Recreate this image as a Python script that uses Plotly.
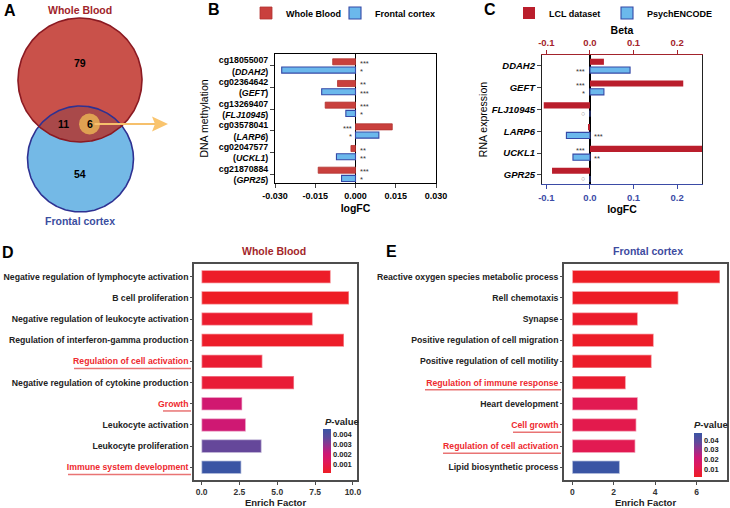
import numpy as np
import plotly.graph_objects as go

W, H = 730, 508
def px(x): return x / W
def py(y): return 1 - y / H

FONT = "Liberation Sans, Arial, sans-serif"

# ---------------- data ----------------
# Panel A (Venn counts)
venn_sets = ["Whole Blood", "Frontal cortex"]
venn_wb_only = 79
venn_overlap_other = 11
venn_shared = 6
venn_fc_only = 54

# Panel B (DNA methylation logFC)
b_probes = ["cg18055007", "cg02364642", "cg13269407", "cg03578041", "cg02047577", "cg21870884"]
b_genes = ["DDAH2", "GEFT", "FLJ10945", "LARP6", "UCKL1", "GPR25"]
b_whole_blood = [-0.0085, -0.0067, -0.0113, 0.0137, -0.0017, -0.0139]
b_frontal = [-0.0275, -0.0126, -0.0036, 0.0087, -0.0071, -0.0052]
b_wb_sig = ["***", "**", "***", "***", "**", "***"]
b_fc_sig = ["*", "***", "*", "*", "**", "*"]
b_xticks = [-0.030, -0.015, 0.0, 0.015, 0.030]

# Panel C (RNA expression)
c_genes = ["DDAH2", "GEFT", "FLJ10945", "LARP6", "UCKL1", "GPR25"]
c_lcl_beta = [0.032, 0.214, -0.106, -0.004, 0.258, -0.087]
c_psych_logfc = [0.092, 0.032, 0.0, -0.054, -0.039, 0.0]
c_lcl_sig = ["", "***", "", "", "***", ""]
c_psych_sig = ["***", "*", "○", "***", "**", "○"]
c_xticks = [-0.1, 0.0, 0.1, 0.2]

# Panel D (Whole Blood enrichment)
d_terms = ["Negative regulation of lymphocyte activation", "B cell proliferation",
           "Negative regulation of leukocyte activation", "Regulation of interferon-gamma production",
           "Regulation of cell activation", "Negative regulation of cytokine production",
           "Growth", "Leukocyte activation", "Leukocyte proliferation", "Immune system development"]
d_enrich = [8.53, 9.74, 7.34, 9.41, 4.02, 6.11, 2.68, 2.92, 3.96, 2.62]
d_pvalue = [0.0002, 0.0001, 0.0003, 0.0002, 0.0004, 0.0005, 0.0019, 0.0020, 0.0036, 0.0046]
d_highlight = [False, False, False, False, True, False, True, False, False, True]
d_xticks = [0.0, 2.5, 5.0, 7.5, 10.0]
d_cbar_ticks = [0.001, 0.002, 0.003, 0.004]

# Panel E (Frontal cortex enrichment)
e_terms = ["Reactive oxygen species metabolic process", "Rell chemotaxis", "Synapse",
           "Positive regulation of cell migration", "Positive regulation of cell motility",
           "Regulation of immune response", "Heart development", "Cell growth",
           "Regulation of cell activation", "Lipid biosynthetic process"]
e_enrich = [7.13, 5.12, 3.16, 3.93, 3.83, 2.58, 3.16, 3.09, 3.04, 2.29]
e_pvalue = [0.0026, 0.0030, 0.0040, 0.0035, 0.0038, 0.0050, 0.0120, 0.0110, 0.0120, 0.0470]
e_highlight = [False, False, False, False, False, True, False, True, True, False]
e_xticks = [0, 2, 4, 6]
e_cbar_ticks = [0.01, 0.02, 0.03, 0.04]

# ---------------- styles ----------------
RED_B = "#C9403D"
BLUE_B = "#6BB8EC"
BLUE_EDGE = "#3448A6"
RED_C = "#BA1E2C"
AX_RED = "#A3232C"
AX_BLUE = "#3B4BA6"
HL_RED = "#EE2A2F"
FRAME = "#4D4D4D"
PSCALE = [[0.0, "#EE1D24"], [0.25, "#E0195A"], [0.45, "#CC1877"],
          [0.65, "#8C3590"], [0.8, "#5E4A9C"], [1.0, "#3A55A4"]]

fig = go.Figure()

# ---------------- Panel A: Venn ----------------
wb_c, wb_r = (80.0, 80.0), 62.0
fc_c, fc_r = (80.5, 159.0), 53.0
sh_c, sh_r = (89.5, 124.0), 10.5
t = np.linspace(0, 2 * np.pi, 361)

def circ(c, r):
    return c[0] + r * np.cos(t), c[1] + r * np.sin(t)

wx, wy = circ(wb_c, wb_r)
fx, fy = circ(fc_c, fc_r)
# lens (overlap) polygon
in_fc = (wx - fc_c[0]) ** 2 + (wy - fc_c[1]) ** 2 <= fc_r ** 2
in_wb = (fx - wb_c[0]) ** 2 + (fy - wb_c[1]) ** 2 <= wb_r ** 2
lx = np.concatenate([wx[in_fc], fx[in_wb]])
ly = np.concatenate([wy[in_fc], fy[in_wb]])
ang = np.arctan2(ly - ly.mean(), lx - lx.mean())
order = np.argsort(ang)
lx, ly = lx[order], ly[order]
sx, sy = circ(sh_c, sh_r)

venn_kw = dict(xaxis="x6", yaxis="y6", mode="lines", showlegend=False, hoverinfo="skip")
fig.add_trace(go.Scatter(x=fx, y=fy, fill="toself", fillcolor="#74B9E6", line=dict(width=0), **venn_kw))
fig.add_trace(go.Scatter(x=wx, y=wy, fill="toself", fillcolor="#C9514A", line=dict(width=0), **venn_kw))
fig.add_trace(go.Scatter(x=lx, y=ly, fill="toself", fillcolor="#A9494A", line=dict(width=0), **venn_kw))
fig.add_trace(go.Scatter(x=fx, y=fy, line=dict(color="#2E3192", width=1.6), **venn_kw))
fig.add_trace(go.Scatter(x=wx, y=wy, line=dict(color="#8B1A22", width=1.6), **venn_kw))
fig.add_trace(go.Scatter(x=sx, y=sy, fill="toself", fillcolor="#DFA152", line=dict(width=0), **venn_kw))
fig.add_trace(go.Scatter(x=[sh_c[0] + 5, 155], y=[sh_c[1], sh_c[1]],
                         line=dict(color="#F6C06C", width=2), **venn_kw))
fig.add_trace(go.Scatter(x=[152, 168, 152, 155, 152], y=[116.5, 124, 131.5, 124, 116.5], fill="toself",
                         fillcolor="#F9C46E", line=dict(width=0), **venn_kw))

venn_text = [
    (venn_sets[0], 80, 10, "#A0242A"),
    (venn_sets[1], 80, 221, "#3A4EA0"),
    (str(venn_wb_only), 80, 63, "black"),
    (str(venn_overlap_other), 63, 124, "black"),
    (str(venn_shared), 90, 124, "black"),
    (str(venn_fc_only), 80, 174, "black"),
]
annotations = []
for txt, x, y, col in venn_text:
    annotations.append(dict(text=txt, x=x, y=y, xref="x6", yref="y6", showarrow=False,
                            xanchor="center", yanchor="middle",
                            font=dict(size=10.5, color=col, family=FONT, weight="bold")))

# ---------------- Panel B ----------------
nb = len(b_probes)
b_idx = list(range(nb))
fig.add_trace(go.Bar(x=b_whole_blood, y=b_idx, orientation="h", name="Whole Blood",
                     width=0.28, offset=-0.33, marker=dict(color=RED_B, line=dict(color="#B23330", width=0.8)),
                     xaxis="x", yaxis="y", legend="legend"))
fig.add_trace(go.Bar(x=b_frontal, y=b_idx, orientation="h", name="Frontal cortex",
                     width=0.28, offset=0.05, marker=dict(color=BLUE_B, line=dict(color=BLUE_EDGE, width=1.1)),
                     xaxis="x", yaxis="y", legend="legend3"))
for vals, sigs, off in [(b_whole_blood, b_wb_sig, -0.19), (b_frontal, b_fc_sig, 0.19)]:
    for i, (v, s) in enumerate(zip(vals, sigs)):
        if not s:
            continue
        annotations.append(dict(text=s, x=0, y=i + off, xref="x", yref="y", showarrow=False,
                                xanchor="left" if v < 0 else "right", yanchor="middle",
                                xshift=2 if v < 0 else -2, yshift=-1.5,
                                font=dict(size=7.5, color="#333333", family=FONT)))

# ---------------- Panel C ----------------
nc = len(c_genes)
c_idx = list(range(nc))
fig.add_trace(go.Bar(x=c_lcl_beta, y=c_idx, orientation="h", name="LCL dataset",
                     width=0.28, offset=-0.33, marker=dict(color=RED_C, line=dict(width=0)),
                     xaxis="x3", yaxis="y2", legend="legend2"))
fig.add_trace(go.Bar(x=c_psych_logfc, y=c_idx, orientation="h", name="PsychENCODE",
                     width=0.28, offset=0.05, marker=dict(color=BLUE_B, line=dict(color=BLUE_EDGE, width=1.1)),
                     xaxis="x2", yaxis="y2", legend="legend4"))
for vals, sigs, off, xr in [(c_lcl_beta, c_lcl_sig, -0.19, "x3"), (c_psych_logfc, c_psych_sig, 0.19, "x2")]:
    for i, (v, s) in enumerate(zip(vals, sigs)):
        if not s:
            continue
        is_circle = s == "○"
        annotations.append(dict(text=s, x=0, y=i + off, xref=xr, yref="y2", showarrow=False,
                                xanchor="left" if v < 0 else "right", yanchor="middle",
                                xshift=2 if v < 0 else -3,
                                yshift=0 if is_circle else -1.5,
                                font=dict(size=7 if is_circle else 7.5,
                                          color="#888888" if is_circle else "#333333", family=FONT)))

# ---------------- Panels D & E ----------------
def styled(terms, hl):
    return [f'<span style="color:{HL_RED}">{tm}</span>' if h else tm for tm, h in zip(terms, hl)]

bar_line = dict(color="rgba(255,255,255,0.45)", width=1.5)
fig.add_trace(go.Bar(x=d_enrich, y=list(range(len(d_terms))), orientation="h", width=0.62,
                     marker=dict(color=d_pvalue, coloraxis="coloraxis", line=bar_line),
                     xaxis="x4", yaxis="y4", showlegend=False))
fig.add_trace(go.Bar(x=e_enrich, y=list(range(len(e_terms))), orientation="h", width=0.62,
                     marker=dict(color=e_pvalue, coloraxis="coloraxis2", line=bar_line),
                     xaxis="x5", yaxis="y5", showlegend=False))

# underline shapes for highlighted terms
shapes = []
d_ul_x0 = {4: 74, 6: 163, 9: 68}
e_ul_x0 = {5: 425, 7: 513, 8: 443}
for i, h in enumerate(d_highlight):
    if h:
        shapes.append(dict(type="line", xref="paper", yref="y4", x0=px(d_ul_x0[i]), x1=px(191),
                           y0=i + 0.34, y1=i + 0.34, line=dict(color="#E97474", width=1.5)))
for i, h in enumerate(e_highlight):
    if h:
        shapes.append(dict(type="line", xref="paper", yref="y5", x0=px(e_ul_x0[i]), x1=px(561),
                           y0=i + 0.34, y1=i + 0.34, line=dict(color="#E97474", width=1.5)))

def paper_text(txt, x, y, size, color, bold=True):
    return dict(text=txt, x=px(x), y=py(y), xref="paper", yref="paper", showarrow=False,
                xanchor="center", yanchor="middle",
                font=dict(size=size, color=color, family=FONT, weight="bold" if bold else "normal"))

# panel letters and titles
for txt, x, y in [("A", 9.5, 11), ("B", 214, 10), ("C", 490, 10), ("D", 8, 252), ("E", 391, 251)]:
    annotations.append(paper_text(txt, x, y, 16, "black"))
annotations.append(paper_text("Whole Blood", 274, 251, 10.5, "#A3262A"))
annotations.append(paper_text("Frontal cortex", 648, 251, 10.5, "#3D4BA0"))
annotations.append(paper_text("<i>P</i>-value", 342, 421, 9.5, "#222"))
annotations.append(paper_text("<i>P</i>-value", 711, 424, 9.5, "#222"))

def tf(size, color="black", style="normal"):
    return dict(size=size, color=color, family=FONT, weight="bold", style=style)

b_ticktext = [f"{p}<br>(<i>{g}</i>)" for p, g in zip(b_probes, b_genes)]

common_ax = dict(automargin=False, showgrid=False)
layout_axes = dict(
    xaxis=dict(domain=[px(275), px(436)], anchor="y", range=[b_xticks[0], b_xticks[-1]],
               tickvals=b_xticks, ticktext=[f"{v:.3f}" for v in b_xticks], tickfont=tf(9),
               ticks="outside", ticklen=4, showline=True, mirror=True, linecolor="black", linewidth=1,
               zeroline=True, zerolinecolor="black", zerolinewidth=1,
               title=dict(text="logFC", font=tf(10.5), standoff=4), **common_ax),
    yaxis=dict(domain=[py(183), py(54)], anchor="x", range=[nb - 0.6, -0.55],
               tickvals=b_idx, ticktext=b_ticktext, tickfont=tf(8.8),
               ticks="outside", ticklen=4, showline=True, mirror=True, linecolor="black", linewidth=1,
               zeroline=False,
               title=dict(text="DNA methylation", font=dict(size=10.5, family=FONT, color="black"), standoff=8),
               **common_ax),
    xaxis2=dict(domain=[px(542), px(702)], anchor="y2", range=[-0.11, 0.257],
                tickvals=c_xticks, ticktext=[f"{v:.1f}" for v in c_xticks], tickfont=tf(9.5, AX_BLUE),
                ticks="outside", ticklen=4, tickcolor=AX_BLUE, showline=True, linecolor=AX_BLUE, linewidth=1.2,
                zeroline=True, zerolinecolor="black", zerolinewidth=1.5,
                title=dict(text="logFC", font=tf(10.5), standoff=4), **common_ax),
    xaxis3=dict(overlaying="x2", side="top", anchor="y2", range=[-0.11, 0.257],
                tickvals=c_xticks, ticktext=[f"{v:.1f}" for v in c_xticks], tickfont=tf(9.5, AX_RED),
                ticks="outside", ticklen=4, tickcolor=AX_RED, showline=True, linecolor=AX_RED, linewidth=1.2,
                zeroline=False,
                title=dict(text="Beta", font=tf(10.5), standoff=0), **common_ax),
    yaxis2=dict(domain=[py(184), py(55)], anchor="x2", range=[nc - 0.58, -0.5],
                tickvals=c_idx, ticktext=c_genes, tickfont=tf(9.5, "black", "italic"),
                ticks="outside", ticklen=4, showline=True, mirror=True, linecolor="#222", linewidth=1.2,
                zeroline=False,
                title=dict(text="RNA expression", font=dict(size=10.5, family=FONT, color="black"), standoff=2),
                **common_ax),
    xaxis4=dict(domain=[px(194), px(357)], anchor="y4", range=[-0.5, 10.27],
                tickvals=d_xticks, ticktext=[f"{v:.1f}" for v in d_xticks], tickfont=tf(8.5, "#333"),
                ticks="outside", ticklen=3, tickcolor=FRAME, showline=True, mirror=True, linecolor=FRAME,
                linewidth=1.6, zeroline=False,
                title=dict(text="Enrich Factor", font=tf(9.5, "#222"), standoff=4), **common_ax),
    yaxis4=dict(domain=[py(480), py(264)], anchor="x4", range=[len(d_terms) - 0.4, -0.6],
                tickvals=list(range(len(d_terms))), ticktext=styled(d_terms, d_highlight), tickfont=tf(8.7, "#222"),
                ticks="outside", ticklen=2, tickcolor=FRAME, showline=True, mirror=True, linecolor=FRAME,
                linewidth=1.6, zeroline=False, **common_ax),
    xaxis5=dict(domain=[px(564), px(727)], anchor="y5", range=[-0.4, 7.47],
                tickvals=e_xticks, ticktext=[str(v) for v in e_xticks], tickfont=tf(8.5, "#333"),
                ticks="outside", ticklen=3, tickcolor=FRAME, showline=True, mirror=True, linecolor=FRAME,
                linewidth=1.6, zeroline=False,
                title=dict(text="Enrich Factor", font=tf(9.5, "#222"), standoff=4), **common_ax),
    yaxis5=dict(domain=[py(480), py(264)], anchor="x5", range=[len(e_terms) - 0.4, -0.6],
                tickvals=list(range(len(e_terms))), ticktext=styled(e_terms, e_highlight), tickfont=tf(8.7, "#222"),
                ticks="outside", ticklen=2, tickcolor=FRAME, showline=True, mirror=True, linecolor=FRAME,
                linewidth=1.6, zeroline=False, **common_ax),
    xaxis6=dict(domain=[0, px(200)], anchor="y6", range=[0, 200], visible=False, fixedrange=True, automargin=False),
    yaxis6=dict(domain=[py(240), 1], anchor="x6", range=[240, 0], visible=False, fixedrange=True, automargin=False),
)

cbar_common = dict(thickness=8, lenmode="pixels", len=44, xanchor="left", yanchor="middle",
                   xpad=0, ypad=0, outlinewidth=0, ticks="", tickfont=dict(size=7.5, family=FONT,
                   color="#222", weight="bold"))

def legend_at(swatch_center_x):
    return dict(orientation="h", x=px(swatch_center_x - 24), y=py(13), xanchor="left", yanchor="middle",
                font=tf(9), bgcolor="rgba(0,0,0,0)", itemclick=False, tracegroupgap=0)

fig.update_layout(
    template="none",
    width=W, height=H, margin=dict(l=0, r=0, t=0, b=0, pad=0, autoexpand=False),
    paper_bgcolor="white", plot_bgcolor="white",
    font=dict(family=FONT, size=9, color="black"),
    barmode="overlay",
    annotations=annotations, shapes=shapes,
    legend=legend_at(270),
    legend3=legend_at(359),
    legend2=legend_at(533),
    legend4=legend_at(631),
    coloraxis=dict(colorscale=PSCALE, cmin=0.0001, cmax=0.0046,
                   colorbar=dict(x=px(323), y=py(451), tickvals=d_cbar_ticks, tickformat=".3f", **cbar_common)),
    coloraxis2=dict(colorscale=PSCALE, cmin=0.0026, cmax=0.047,
                    colorbar=dict(x=px(694), y=py(455), tickvals=e_cbar_ticks, tickformat=".2f", **cbar_common)),
    **layout_axes,
)

fig.write_html("out.html", config={"displayModeBar": False},
               post_script="document.body.style.margin='0';document.body.style.overflow='hidden';")
